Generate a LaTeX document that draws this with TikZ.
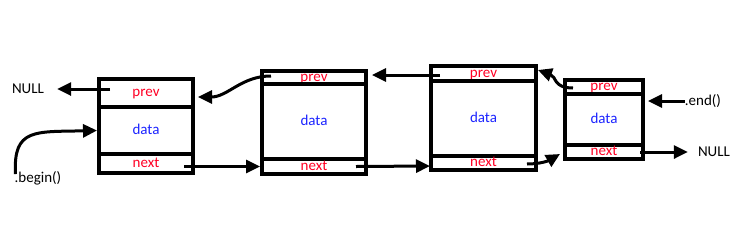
\documentclass[tikz,border=0pt]{standalone}
\usepackage{fontspec}
\setmainfont{Carlito}
\usetikzlibrary{arrows.meta, positioning, calc}

\definecolor{ptrred}{RGB}{255,0,36}
\definecolor{valblue}{RGB}{28,36,255}

\begin{document}
\begin{tikzpicture}[
  x=1pt, y=-1pt,
  font=\fontsize{15}{18}\selectfont,
  cell/.style={draw, line width=3.2pt, inner sep=0pt, outer sep=0pt,
               text height=7pt, text depth=0pt, anchor=north},
  ptr/.style={cell, text=ptrred},
  val/.style={cell, text=valblue},
  lbl/.style={inner sep=0pt},
  link/.style={-{Triangle[length=14pt,width=13pt]}, line width=3pt},
  node distance=0pt
]
\useasboundingbox (0,0) rectangle (750,250);

% first element
\node[ptr, minimum width=94pt, minimum height=28pt] (prev1) at (146,79) {prev};
\node[val, minimum width=94pt, minimum height=47pt, below=of prev1] (data1) {data};
\node[ptr, minimum width=94pt, minimum height=19pt, below=of data1] (next1) {next};

% second element
\node[ptr, minimum width=104pt, minimum height=13pt] (prev2) at (314,71) {prev};
\node[val, minimum width=104pt, minimum height=75pt, below=of prev2] (data2) {data};
\node[ptr, minimum width=104pt, minimum height=15pt, below=of data2] (next2) {next};

% third element
\node[ptr, minimum width=105pt, minimum height=15pt] (prev3) at (483.5,66) {prev};
\node[val, minimum width=105pt, minimum height=75pt, below=of prev3] (data3) {data};
\node[ptr, minimum width=105pt, minimum height=14pt, below=of data3] (next3) {next};

% last element
\node[ptr, minimum width=78pt, minimum height=14pt] (prev4) at (604,80) {prev};
\node[val, minimum width=78pt, minimum height=51pt, below=of prev4] (data4) {data};
\node[ptr, minimum width=78pt, minimum height=14pt, below=of data4] (next4) {next};

% end labels
\node[lbl] (nullL) at (28,89) {NULL};
\node[lbl] (beginL) at (38,178) {.begin()};
\node[lbl] (endL) at (703,101) {.end()};
\node[lbl] (nullR) at (714,152) {NULL};

% links
\draw[link] ([shift={(11,-4)}]prev1.west) -- ([xshift=13pt]nullL.east);
\draw[link] ([shift={(1,3)}]beginL.north west) .. controls (13,128) and (35,132) .. ([xshift=-2pt]data1.west);
\draw[link] ([shift={(-9,3)}]next1.east) -- ([xshift=-2pt]next2.west);
\draw[link] ([shift={(9,-1.5)}]prev2.west) to[out=180,in=0] ([shift={(5,4)}]prev1.east);
\draw[link] ([xshift=-10pt]next2.east) -- ([shift={(-1,3)}]next3.west);
\draw[link] ([shift={(9,1.5)}]prev3.west) -- ([shift={(6,-2.5)}]prev2.east);
\draw[link] ([shift={(-9,1)}]next3.east) to[out=0,in=210] ([shift={(-5,2)}]next4.west);
\draw[link] ([shift={(8,1)}]prev4.west) to[out=180,in=-20,looseness=1.3] ([shift={(2,-3.5)}]prev3.east);
\draw[link] (endL.west) -- ([xshift=5pt]data4.east |- endL.west);
\draw[link] ([xshift=-3pt]next4.east) -- ([xshift=-10pt]nullR.west);

\end{tikzpicture}
\end{document}
